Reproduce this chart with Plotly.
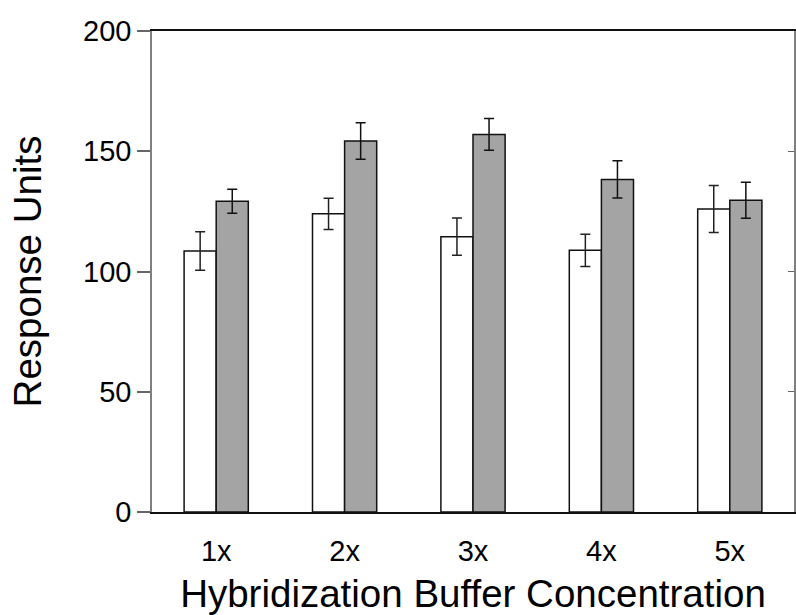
import plotly.graph_objects as go

categories = ["1x", "2x", "3x", "4x", "5x"]
white_values = [108.5, 124, 114.5, 108.8, 126]
white_errors = [8, 6.5, 7.7, 6.7, 9.8]
gray_values = [129.2, 154.3, 157, 138.3, 129.6]
gray_errors = [5, 7.6, 6.6, 7.7, 7.5]
y_ticks = [0, 50, 100, 150, 200]

FONT = "Liberation Sans, Arial, sans-serif"

fig = go.Figure()
fig.add_trace(go.Bar(
    x=categories, y=white_values,
    marker=dict(color="white", line=dict(color="#111111", width=1.5)),
    error_y=dict(type="data", array=white_errors, visible=True,
                 color="#222222", thickness=1.5, width=5),
    showlegend=False,
))
fig.add_trace(go.Bar(
    x=categories, y=gray_values,
    marker=dict(color="#a4a4a4", line=dict(color="#111111", width=1.5)),
    error_y=dict(type="data", array=gray_errors, visible=True,
                 color="#111111", thickness=1.5, width=5),
    showlegend=False,
))
# invisible trace carrying the right-hand axis with inward ticks
fig.add_trace(go.Scatter(x=categories, y=[None] * len(categories), yaxis="y2",
                         showlegend=False, hoverinfo="skip"))

fig.update_layout(
    width=796, height=615,
    margin=dict(l=152, r=2, t=31, b=103),
    paper_bgcolor="white", plot_bgcolor="white",
    barmode="group", bargap=0.5, bargroupgap=0,
    font=dict(family=FONT, color="black"),
    xaxis=dict(
        showline=True, linecolor="#111111", linewidth=1.5, mirror=True,
        ticks="outside", ticklen=12, tickcolor="rgba(0,0,0,0)",
        showgrid=False, zeroline=False,
        tickfont=dict(size=29, family=FONT),
        title=dict(text="Hybridization Buffer Concentration",
                   font=dict(size=38.5, family=FONT), standoff=18),
    ),
    yaxis=dict(
        range=[0, 200], tickvals=y_ticks, ticktext=[str(v) for v in y_ticks],
        showline=True, linecolor="#808080", linewidth=1.5,
        ticks="outside", ticklen=13, tickwidth=1.5, tickcolor="#666666",
        showgrid=False, zeroline=False,
        tickfont=dict(size=29, family=FONT),
        title=dict(text="Response Units", font=dict(size=38.5, family=FONT),
                   standoff=30),
    ),
    yaxis2=dict(
        range=[0, 200], tickvals=y_ticks, overlaying="y", side="right",
        showline=True, linecolor="#808080", linewidth=1.5,
        ticks="inside", ticklen=6, tickwidth=1, tickcolor="#666666",
        showticklabels=False, showgrid=False, zeroline=False,
    ),
)

fig.write_html("out.html")
